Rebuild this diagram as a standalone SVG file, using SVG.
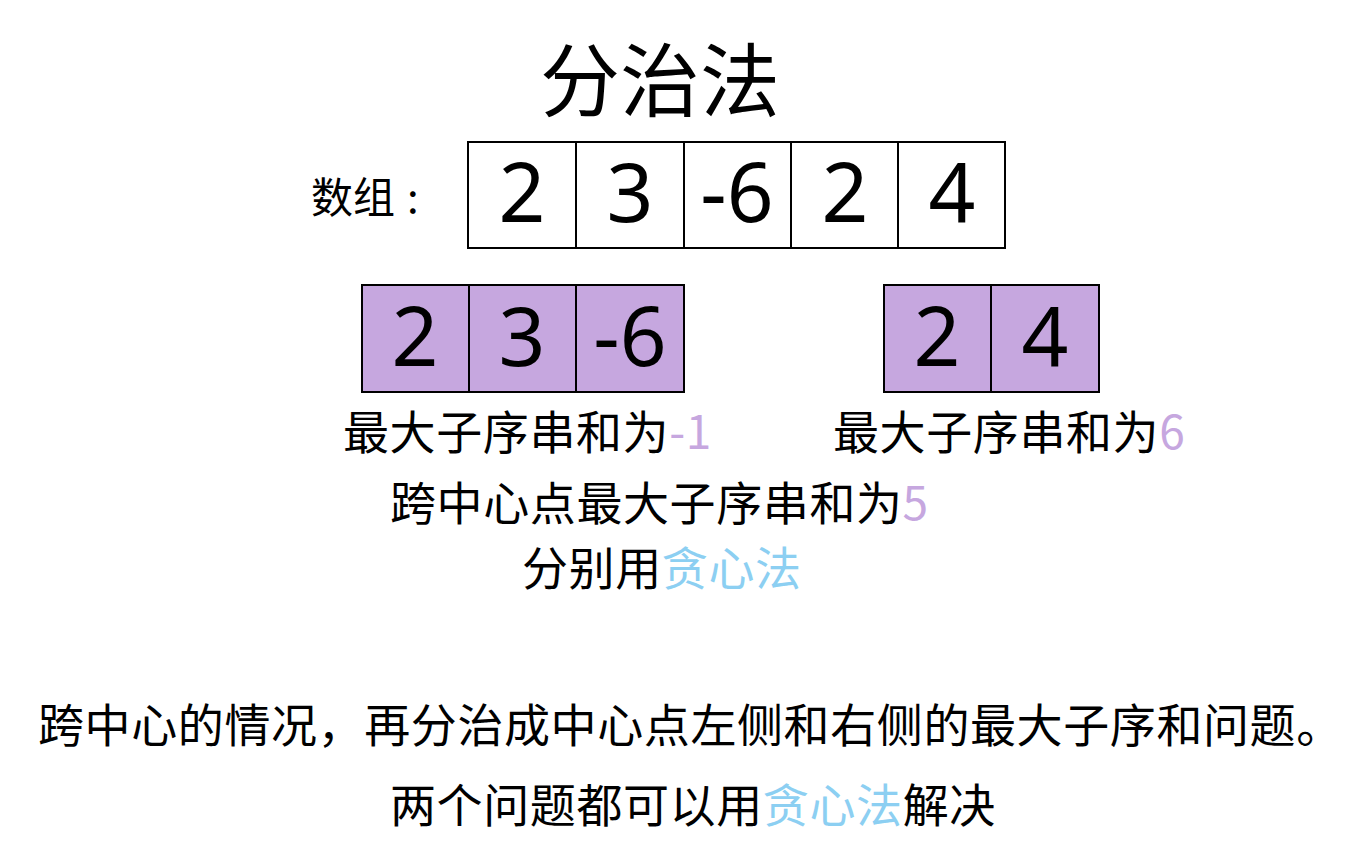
<svg xmlns="http://www.w3.org/2000/svg" width="1350" height="860" viewBox="0 0 1350 860">
<style>
text{font-family:"Noto Sans CJK SC","Noto Sans",sans-serif;fill:#000}
.cell{fill:#fff;stroke:#000;stroke-width:2}
.pcell{fill:#C6A7DF;stroke:#000;stroke-width:2}
.num{font-family:"Noto Sans","Noto Sans CJK SC",sans-serif;font-size:82px;text-anchor:middle}
.lbl{font-size:46px;letter-spacing:0.6px}
.pur{fill:#C6A7DF}
.blu{fill:#8CCFF2}
</style>
<rect width="1350" height="860" fill="#fff"/>
<text id="title" x="540" y="110" style="font-size:80px">分治法</text>
<g id="array">
<text x="311" y="213" style="font-size:42px">数组<tspan dx="12">:</tspan></text>
<rect class="cell" x="468" y="142" width="108" height="106"/>
<rect class="cell" x="576" y="142" width="108" height="106"/>
<rect class="cell" x="684" y="142" width="107" height="106"/>
<rect class="cell" x="791" y="142" width="107" height="106"/>
<rect class="cell" x="898" y="142" width="107" height="106"/>
<text class="num" x="522" y="222">2</text>
<text class="num" x="630" y="222">3</text>
<text class="num" x="737" y="222">-6</text>
<text class="num" x="845" y="222">2</text>
<text class="num" x="952" y="222">4</text>
</g>
<g id="left">
<rect class="pcell" x="362" y="285" width="107" height="107"/>
<rect class="pcell" x="469" y="285" width="107" height="107"/>
<rect class="pcell" x="576" y="285" width="108" height="107"/>
<text class="num" x="415" y="366">2</text>
<text class="num" x="522" y="366">3</text>
<text class="num" x="630" y="366">-6</text>
<text class="lbl" x="343" y="449">最大子序串和为<tspan class="pur">-1</tspan></text>
</g>
<g id="right">
<rect class="pcell" x="884" y="285" width="107" height="107"/>
<rect class="pcell" x="991" y="285" width="108" height="107"/>
<text class="num" x="937" y="366">2</text>
<text class="num" x="1045" y="366">4</text>
<text class="lbl" x="833" y="449">最大子序串和为<tspan class="pur">6</tspan></text>
</g>
<g id="notes">
<text class="lbl" x="390" y="520">跨中心点最大子序串和为<tspan class="pur">5</tspan></text>
<text class="lbl" x="522" y="585">分别用<tspan class="blu">贪心法</tspan></text>
<text class="lbl" x="38" y="742">跨中心的情况，再分治成中心点左侧和右侧的最大子序和问题。</text>
<text class="lbl" x="390" y="822">两个问题都可以用<tspan class="blu">贪心法</tspan>解决</text>
</g>
<g id="connectors"/>
</svg>
